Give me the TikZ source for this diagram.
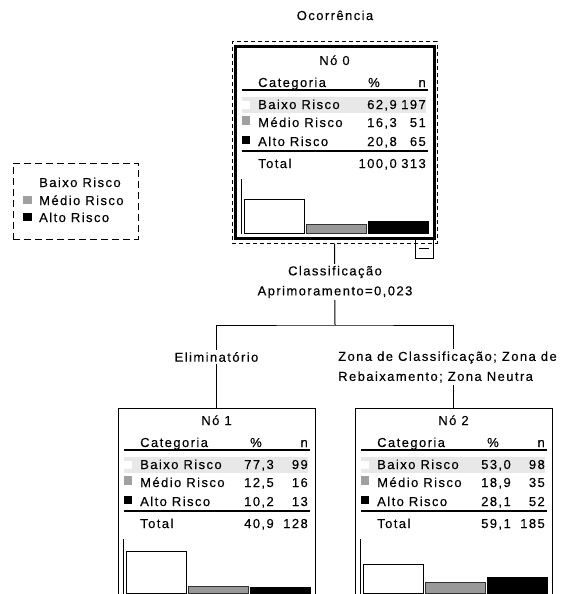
\documentclass[tikz,border=0pt]{standalone}
\usepackage{fontspec}
\setmainfont{Liberation Sans}[LetterSpace=11,FakeBold=0.3]
\definecolor{bandgray}{HTML}{E8E8E8}
\definecolor{swgray}{HTML}{A0A0A0}
\definecolor{bargray}{HTML}{999999}
\definecolor{bardraw}{HTML}{333333}
\newcommand\tfont{\fontsize{13}{20}\selectfont}
\newcommand\pctR{156}
\newcommand\hA{0}\newcommand\hB{0}\newcommand\hC{0}
% #1 node number, #2-#7 row values, #8 total %, #9 total n
\newcommand\risktable[9]{%
  \fill[bandgray] (6,49) rectangle (190,65);
  \node[txt,anchor=base] (n#1-title) at (98.5,17) {Nó #1};
  \node[txt,anchor=base west] (n#1-cat) at (22,39) {Categoria};
  \node[txt,anchor=base] (n#1-pct) at (138,39) {\%};
  \node[txt,anchor=base east] (n#1-n) at (190,39) {n};
  \draw[rule] (6,42) -- (192,42);
  \fill[white] (6,53) rectangle (14,61);
  \fill[swgray] (6,68) rectangle (14,77);
  \fill[black] (6,88) rectangle (14,96);
  \node[txt,anchor=base west] (n#1-r1) at (22,61) {Baixo Risco};
  \node[txt,anchor=base west] (n#1-r2) at (22,79) {Médio Risco};
  \node[txt,anchor=base west] (n#1-r3) at (22,98) {Alto Risco};
  \node[txt,anchor=base east] (n#1-p1) at (\pctR,61) {#2};
  \node[txt,anchor=base east] (n#1-c1) at (190,61) {#3};
  \node[txt,anchor=base east] (n#1-p2) at (\pctR,79) {#4};
  \node[txt,anchor=base east] (n#1-c2) at (190,79) {#5};
  \node[txt,anchor=base east] (n#1-p3) at (\pctR,98) {#6};
  \node[txt,anchor=base east] (n#1-c3) at (190,98) {#7};
  \draw[rule] (6,103) -- (192,103);
  \node[txt,anchor=base west] (n#1-tot) at (22,120) {Total};
  \node[txt,anchor=base east] (n#1-pt) at (\pctR,120) {#8};
  \node[txt,anchor=base east] (n#1-nt) at (190,120) {#9};
  \draw[line width=1pt] (5,131) -- (5,186);
  \draw[bar,fill=white] (8,185) rectangle (68,{185-\hA});
  \draw[bar,fill=bargray,draw=bardraw] (70,185) rectangle (130,{185-\hB});
  \draw[bar,fill=black] (132,185) rectangle (192,{185-\hC});
}
\begin{document}
\begin{tikzpicture}[x=1pt,y=-1pt,
  txt/.style={inner sep=0pt,font=\tfont,text=black},
  rule/.style={line width=1.5pt,draw=black},
  bar/.style={draw=black,line width=1pt},
  conn/.style={draw=black,line width=1pt},
  leafbox/.style={draw=black,line width=1pt,minimum width=197pt,minimum height=300pt,inner sep=0pt,anchor=north},
  rootbox/.style={draw=black,line width=3pt,minimum width=199pt,minimum height=191pt,inner sep=0pt},
  rootdash/.style={draw=black,line width=1pt,dash pattern=on 4pt off 3pt,minimum width=205pt,minimum height=201pt,inner sep=0pt},
  legdash/.style={draw=black,line width=1pt,dash pattern=on 7pt off 4pt,minimum width=125pt,minimum height=76pt,inner sep=0pt},
  lbl/.style={txt,fill=white,inner sep=2pt},
]
\useasboundingbox (0,0) rectangle (564,594);
\clip (0,0) rectangle (564,594);

% title
\node[txt,anchor=base] (title) at (335,20) {Ocorrência};

% legend
\node[legdash] (legend) at (75.5,201) {};
\node[txt,anchor=base west] (lg1) at (39,187) {Baixo Risco};
\node[txt,anchor=base west] (lg2) at (39,205) {Médio Risco};
\node[txt,anchor=base west] (lg3) at (39,222) {Alto Risco};
\fill[white] (23,178) rectangle (32,186);
\fill[swgray] (23,196) rectangle (32,204);
\fill[black] (23,213) rectangle (32,221);

% root node
\node[rootdash] (n0o) at (334.5,142.5) {};
\node[rootbox] (n0) at (334.5,142.5) {};
\begin{scope}[shift={(236,48)}]
  \renewcommand\pctR{161}
  \renewcommand\hA{34.0}\renewcommand\hB{8.8}\renewcommand\hC{11.2}
  \risktable{0}{62,9}{197}{16,3}{51}{20,8}{65}{100,0}{313}
\end{scope}
\node[draw=black,line width=1pt,minimum width=18pt,minimum height=20pt,inner sep=0pt] (n0c) at (424,248) {};
\draw[line width=1pt] ([xshift=-5pt]n0c.center) -- ([xshift=5pt]n0c.center);

% leaf nodes
\node[leafbox] (n1) at (216.5,408) {};
\node[leafbox] (n2) at (453.5,408) {};
\begin{scope}[shift={(118,408)}]
  \renewcommand\hA{41.7}\renewcommand\hB{6.75}\renewcommand\hC{5.5}
  \risktable{1}{77,3}{99}{12,5}{16}{10,2}{13}{40,9}{128}
\end{scope}
\begin{scope}[shift={(355,408)}]
  \renewcommand\hA{28.6}\renewcommand\hB{10.2}\renewcommand\hC{15.2}
  \risktable{2}{53,0}{98}{18,9}{35}{28,1}{52}{59,1}{185}
\end{scope}

% connectors
\coordinate (fork) at (335,325);
\draw[conn] (n0o.south) -- (fork);
\draw[conn] (n1.north) |- (fork) -| (n2.north);

% labels
\node[lbl,align=center] (split) at (335,282) {Classificação\\Aprimoramento=0,023};
\node[lbl] (e1) at (216.5,357) {Eliminatório};
\node[lbl,align=left,anchor=west] (e2) at (336,367) {Zona de Classificação; Zona de\\Rebaixamento; Zona Neutra};
\end{tikzpicture}
\end{document}
